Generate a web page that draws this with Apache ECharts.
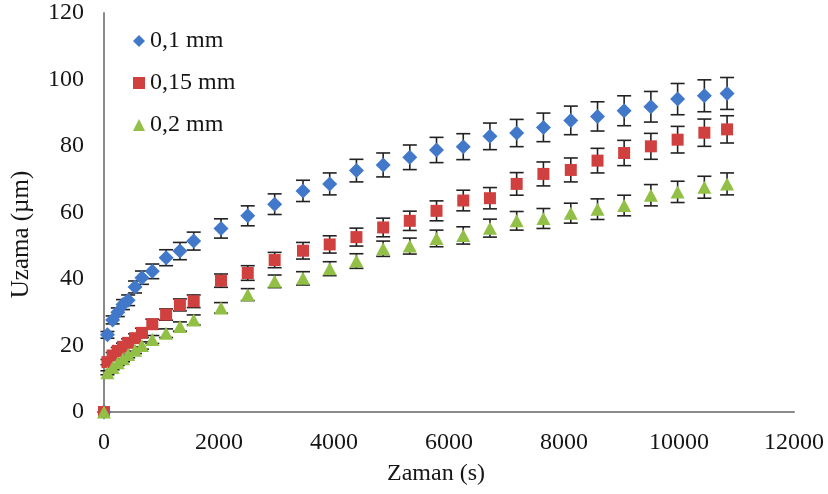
<!DOCTYPE html>
<html>
<head>
<meta charset="utf-8">
<script src="https://cdn.jsdelivr.net/npm/echarts@6/dist/echarts.min.js"></script>
<style>html,body{margin:0;padding:0;background:#fff;}#c{width:828px;height:494px;}</style>
</head>
<body>
<div id="c"></div>
<script>
var times = [0, 60, 150, 240, 330, 420, 540, 660, 840, 1080, 1320, 1560, 2035, 2500, 2968, 3461, 3925, 4390, 4855, 5318, 5783, 6248, 6712, 7177, 7642, 8118, 8583, 9046, 9511, 9976, 10441, 10836];
var s1 = [0, 23.2, 27.7, 30.0, 32.3, 33.6, 37.6, 40.4, 42.3, 46.4, 48.4, 51.4, 55.2, 59.0, 62.5, 66.5, 68.6, 72.6, 74.3, 76.6, 78.8, 79.8, 82.9, 83.9, 85.6, 87.7, 88.9, 90.6, 91.8, 94.1, 95.1, 95.8];
var e1 = [0, 1.0, 1.2, 1.3, 1.5, 1.6, 1.8, 2.0, 2.2, 2.4, 2.6, 2.7, 2.9, 3.0, 3.1, 3.2, 3.3, 3.4, 3.6, 3.7, 3.8, 3.9, 4.0, 4.1, 4.3, 4.3, 4.4, 4.5, 4.6, 4.7, 4.8, 4.8];
var s2 = [0, 15.0, 17.0, 18.4, 19.6, 20.8, 22.2, 23.8, 26.4, 29.3, 32.2, 33.3, 39.5, 41.8, 45.7, 48.5, 50.4, 52.6, 55.5, 57.5, 60.5, 63.6, 64.3, 68.6, 71.6, 72.8, 75.6, 77.9, 79.9, 81.9, 84.0, 85.0];
var e2 = [0, 0.8, 0.9, 1.0, 1.1, 1.2, 1.3, 1.4, 1.5, 1.7, 1.8, 1.9, 2.0, 2.2, 2.3, 2.5, 2.6, 2.7, 2.8, 2.9, 3.0, 3.1, 3.2, 3.4, 3.6, 3.6, 3.7, 3.8, 3.9, 4.0, 4.1, 4.1];
var s3 = [0, 11.8, 13.4, 14.8, 16.0, 17.3, 18.6, 20.0, 21.8, 23.7, 25.7, 27.7, 31.3, 35.3, 39.3, 40.2, 43.1, 45.4, 49.1, 49.9, 52.2, 53.1, 55.3, 57.5, 58.2, 59.8, 61.0, 62.1, 65.2, 66.2, 67.6, 68.6];
var e3 = [0, 0.6, 0.7, 0.8, 0.9, 1.0, 1.0, 1.1, 1.2, 1.3, 1.4, 1.5, 1.6, 1.8, 1.9, 2.0, 2.1, 2.2, 2.3, 2.4, 2.5, 2.6, 2.7, 2.8, 3.0, 3.0, 3.1, 3.1, 3.2, 3.2, 3.3, 3.3];
var names = ['0,1 mm', '0,15 mm', '0,2 mm'];
var colors = ['#4278C9', '#D0403F', '#92BF45'];
var symbols = ['diamond', 'rect', 'triangle'];
var symbolSizes = [[15, 15], [12, 12], [14, 13]];
var xTicks = { min: 0, max: 12000, interval: 2000 };
var yTicks = { min: 0, max: 120, interval: 20 };

var allVals = [s1, s2, s3];
var allErr = [e1, e2, e3];
var FONT = 'Liberation Serif';
var TXT = '#161616';

function pairs(v) { return times.map(function (t, i) { return [t, v[i]]; }); }
function triples(v, e) { return times.map(function (t, i) { return [t, v[i], e[i]]; }); }

function errRender(params, api) {
  var x = api.value(0), y = api.value(1), e = api.value(2);
  if (!e) return null;
  var top = api.coord([x, y + e]);
  var bot = api.coord([x, y - e]);
  var hw = 7;
  var st = { stroke: '#222', lineWidth: 1.6 };
  return {
    type: 'group',
    children: [
      { type: 'line', shape: { x1: top[0], y1: top[1], x2: bot[0], y2: bot[1] }, style: st },
      { type: 'line', shape: { x1: top[0] - hw, y1: top[1], x2: top[0] + hw, y2: top[1] }, style: st },
      { type: 'line', shape: { x1: bot[0] - hw, y1: bot[1], x2: bot[0] + hw, y2: bot[1] }, style: st }
    ]
  };
}

var series = [];
for (var k = 0; k < 3; k++) {
  series.push({
    type: 'custom', name: names[k] + ' err', renderItem: errRender,
    data: triples(allVals[k], allErr[k]), z: 2, silent: true,
    encode: { x: 0, y: 1 }
  });
}
for (var k2 = 0; k2 < 3; k2++) {
  series.push({
    type: 'scatter', name: names[k2], data: pairs(allVals[k2]),
    symbol: symbols[k2], symbolSize: symbolSizes[k2],
    itemStyle: { color: colors[k2], opacity: 1 }, z: 3 + k2
  });
}

var chart = echarts.init(document.getElementById('c'), null, { renderer: 'canvas' });
chart.setOption({
  animation: false,
  backgroundColor: '#fff',
  grid: { left: 104, right: 34, top: 13, bottom: 82, containLabel: false },
  legend: {
    data: names.map(function (n, i) { return { name: n, icon: symbols[i] }; }),
    orient: 'vertical', left: 128, top: 24,
    itemWidth: 12, itemHeight: 12, itemGap: 18,
    textStyle: { fontFamily: FONT, fontSize: 24, color: TXT }
  },
  xAxis: {
    type: 'value', min: xTicks.min, max: xTicks.max, interval: xTicks.interval,
    name: 'Zaman (s)', nameLocation: 'middle', nameGap: 50,
    nameTextStyle: { fontFamily: FONT, fontSize: 24, color: TXT, padding: [0, 26, 0, 0] },
    axisLine: { show: true, lineStyle: { color: '#8a8a8a', width: 2 } },
    axisTick: { show: false },
    splitLine: { show: false },
    axisLabel: { fontFamily: FONT, fontSize: 24, color: TXT, margin: 19,
      formatter: function (v) { return String(v); } }
  },
  yAxis: {
    type: 'value', min: yTicks.min, max: yTicks.max, interval: yTicks.interval,
    name: 'Uzama (µm)', nameLocation: 'middle', nameGap: 70, nameRotate: 90,
    nameTextStyle: { fontFamily: FONT, fontSize: 25, color: TXT, padding: [0, 44, 0, 0] },
    axisLine: { show: true, lineStyle: { color: '#8a8a8a', width: 2 } },
    axisTick: { show: false },
    splitLine: { show: false },
    axisLabel: { fontFamily: FONT, fontSize: 24, color: TXT, margin: 20,
      formatter: function (v) { return String(v); } }
  },
  series: series
});
</script>
</body>
</html>
